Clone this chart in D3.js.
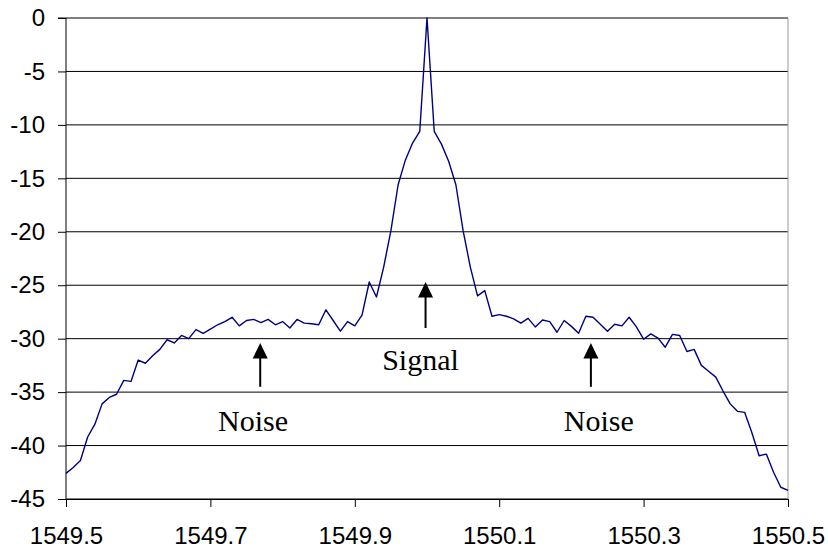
<!DOCTYPE html>
<html>
<head>
<meta charset="utf-8">
<script src="https://cdn.jsdelivr.net/npm/d3@7"></script>
<style>
  html, body { margin: 0; padding: 0; background: #fff; }
  svg { display: block; }
</style>
</head>
<body>
<div id="chart"></div>
<script>
// ---- Data ----
const wavelength = [
  1549.50, 1549.51, 1549.52, 1549.53, 1549.54, 1549.55, 1549.56, 1549.57, 1549.58, 1549.59,
  1549.60, 1549.61, 1549.62, 1549.63, 1549.64, 1549.65, 1549.66, 1549.67, 1549.68, 1549.69,
  1549.70, 1549.71, 1549.72, 1549.73, 1549.74, 1549.75, 1549.76, 1549.77, 1549.78, 1549.79,
  1549.80, 1549.81, 1549.82, 1549.83, 1549.84, 1549.85, 1549.86, 1549.87, 1549.88, 1549.89,
  1549.90, 1549.91, 1549.92, 1549.93, 1549.94, 1549.95, 1549.96, 1549.97, 1549.98, 1549.99,
  1550.00, 1550.01, 1550.02, 1550.03, 1550.04, 1550.05, 1550.06, 1550.07, 1550.08, 1550.09,
  1550.10, 1550.11, 1550.12, 1550.13, 1550.14, 1550.15, 1550.16, 1550.17, 1550.18, 1550.19,
  1550.20, 1550.21, 1550.22, 1550.23, 1550.24, 1550.25, 1550.26, 1550.27, 1550.28, 1550.29,
  1550.30, 1550.31, 1550.32, 1550.33, 1550.34, 1550.35, 1550.36, 1550.37, 1550.38, 1550.39,
  1550.40, 1550.41, 1550.42, 1550.43, 1550.44, 1550.45, 1550.46, 1550.47, 1550.48, 1550.49,
  1550.50
];
const power = [
  -42.6, -42.05, -41.4, -39.2, -38.0, -36.1, -35.5, -35.2, -33.9, -34.0,
  -32.0, -32.3, -31.6, -31.0, -30.1, -30.4, -29.7, -30.0, -29.15, -29.5,
  -29.1, -28.7, -28.4, -28.0, -28.8, -28.3, -28.2, -28.5, -28.2, -28.7,
  -28.4, -29.0, -28.2, -28.55, -28.6, -28.7, -27.3, -28.3, -29.3, -28.4,
  -28.8, -27.8, -24.7, -26.1, -23.3, -19.9, -15.6, -13.3, -11.7, -10.6,
  0.0, -10.6, -11.8, -13.4, -15.6, -19.9, -23.3, -26.0, -25.5, -27.9,
  -27.75, -27.9, -28.15, -28.55, -28.1, -28.9, -28.25, -28.4, -29.4, -28.3,
  -28.85, -29.5, -27.9, -28.0, -28.65, -29.3, -28.65, -28.8, -28.0, -28.9,
  -30.05, -29.55, -29.95, -30.8, -29.6, -29.7, -31.2, -31.0, -32.5, -33.05,
  -33.6, -34.9, -36.1, -36.8, -36.9, -38.8, -40.95, -40.8, -42.5, -43.9,
  -44.2
];
const xTicks = [1549.5, 1549.7, 1549.9, 1550.1, 1550.3, 1550.5];
const xTickLabels = ["1549.5", "1549.7", "1549.9", "1550.1", "1550.3", "1550.5"];
const yTicks = [0, -5, -10, -15, -20, -25, -30, -35, -40, -45];
const yTickLabels = ["0", "-5", "-10", "-15", "-20", "-25", "-30", "-35", "-40", "-45"];

// annotations: arrow (x, tip y, tail y) and label (x, baseline y) in data units
const annText   = ["Noise", "Signal", "Noise"];
const annArrowX = [1549.769, 1549.998, 1550.227];
const annTipY   = [-30.4, -24.7, -30.4];
const annTailY  = [-34.5, -29.0, -34.5];
const annLabelX = [1549.759, 1549.991, 1550.238];
const annLabelY = [-38.6, -32.95, -38.6];

// ---- Layout ----
const W = 828, H = 549;
const margin = { top: 18, right: 40, bottom: 50, left: 66 };

const svg = d3.select("#chart").append("svg")
  .attr("width", W).attr("height", H);

const x = d3.scaleLinear().domain([1549.5, 1550.5]).range([margin.left, W - margin.right]);
const y = d3.scaleLinear().domain([-45, 0]).range([H - margin.bottom, margin.top]);

// gridlines
svg.append("g")
  .selectAll("line")
  .data(yTicks)
  .join("line")
  .attr("x1", x(1549.5)).attr("x2", x(1550.5))
  .attr("y1", d => y(d)).attr("y2", d => y(d))
  .attr("stroke", "#000").attr("stroke-width", 1);

// right border
svg.append("line")
  .attr("x1", x(1550.5)).attr("x2", x(1550.5))
  .attr("y1", y(0)).attr("y2", y(-45))
  .attr("stroke", "#999").attr("stroke-width", 1);

// axes
const fontAxis = "'Liberation Sans', Arial, sans-serif";
const yAxis = d3.axisLeft(y).tickValues(yTicks)
  .tickFormat((d, i) => yTickLabels[i]).tickSize(8).tickPadding(13);
const gy = svg.append("g").attr("transform", `translate(${margin.left},0)`).call(yAxis);

const xAxis = d3.axisBottom(x).tickValues(xTicks)
  .tickFormat((d, i) => xTickLabels[i]).tickSize(8).tickPadding(20);
const gx = svg.append("g").attr("transform", `translate(0,${H - margin.bottom})`).call(xAxis);

[gx, gy].forEach(g => {
  g.select(".domain").attr("stroke", "#000").attr("stroke-width", 1);
  g.selectAll(".tick line").attr("stroke", "#000");
  g.selectAll("text").attr("font-family", fontAxis).attr("font-size", 24).attr("fill", "#000");
});
gy.select(".domain").attr("d", `M-8,${y(0)}H0V${y(-45)}`);

// data line
const line = d3.line().x((d, i) => x(wavelength[i])).y(d => y(d));
svg.append("path")
  .datum(power)
  .attr("d", line)
  .attr("fill", "none")
  .attr("stroke", "#000080")
  .attr("stroke-width", 1.4)
  .attr("stroke-linejoin", "round");

// annotations
const ann = svg.append("g");
annText.forEach((t, i) => {
  const ax = x(annArrowX[i]);
  const tip = y(annTipY[i]);
  const tail = y(annTailY[i]);
  ann.append("line")
    .attr("x1", ax).attr("x2", ax)
    .attr("y1", tail).attr("y2", tip + 12)
    .attr("stroke", "#000").attr("stroke-width", 2);
  ann.append("path")
    .attr("d", `M${ax},${tip} L${ax - 7.5},${tip + 15.5} L${ax + 7.5},${tip + 15.5} Z`)
    .attr("fill", "#000");
  ann.append("text")
    .attr("x", x(annLabelX[i])).attr("y", y(annLabelY[i]))
    .attr("text-anchor", "middle")
    .attr("font-family", "'Liberation Serif', 'Times New Roman', serif")
    .attr("font-size", 30)
    .attr("fill", "#000")
    .text(t);
});
</script>
</body>
</html>
